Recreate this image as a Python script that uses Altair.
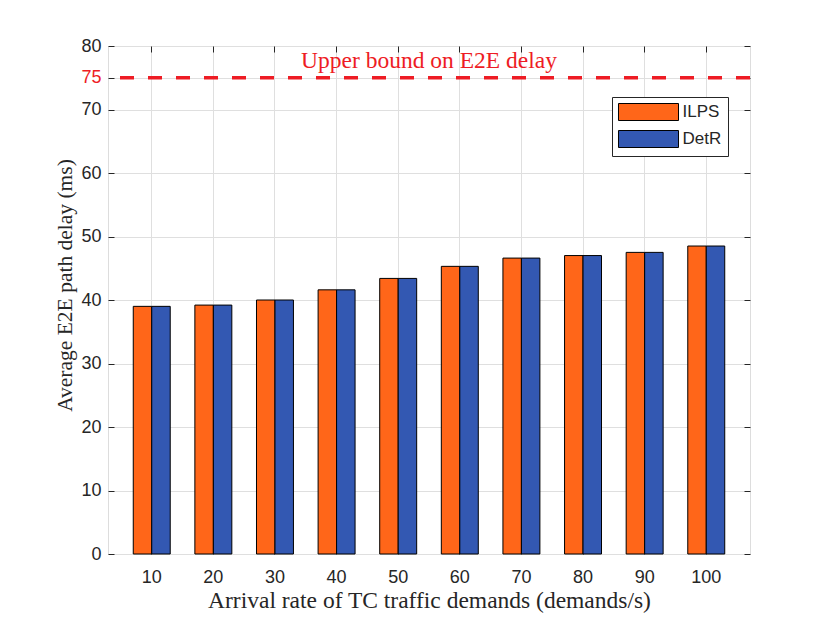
import altair as alt
import pandas as pd

categories = ["10", "20", "30", "40", "50", "60", "70", "80", "90", "100"]
series = ["ILPS", "DetR"]
ilps = [39.0, 39.2, 40.0, 41.6, 43.4, 45.3, 46.6, 47.0, 47.5, 48.5]
detr = [39.0, 39.2, 40.0, 41.6, 43.4, 45.3, 46.6, 47.0, 47.5, 48.5]
y_ticks = [0, 10, 20, 30, 40, 50, 60, 70, 75, 80]
bound = 75
bound_label = "Upper bound on E2E delay"
bound_label_y = 77.6

W, H = 642, 508
AX = "#262626"
GRID = "#dfdfdf"
ORANGE = "#FF6619"
BLUE = "#3358B2"
RED = "#EE1C24"
SANS = "Liberation Sans"
SERIF = "Liberation Serif"

rows = []
for c, a, b in zip(categories, ilps, detr):
    rows.append({"cat": c, "series": "ILPS", "value": a})
    rows.append({"cat": c, "series": "DetR", "value": b})
df = pd.DataFrame(rows)

xscale = alt.Scale(type="band", domain=categories, paddingInner=0.4, paddingOuter=0.41)
yscale = alt.Scale(domain=[0, 80], nice=False, zero=True)

tick_axis_common = dict(labels=False, domain=False, grid=False, ticks=True,
                        tickSize=6, tickColor=AX, tickWidth=1, title=None)

bars = alt.Chart(df).mark_bar(stroke="black", strokeWidth=1).encode(
    x=alt.X("cat:N", scale=xscale, sort=categories,
            axis=alt.Axis(orient="bottom", title="Arrival rate of TC traffic demands (demands/s)",
                          labelAngle=0, ticks=False, grid=True, gridColor=GRID, domain=False,
                          bandPosition=0.5, labelPadding=14,
                          labelFont=SANS, labelFontSize=18, labelColor=AX,
                          titleY=46, titleBaseline="middle",
                          titleFont=SERIF, titleFontSize=23.5, titleFontWeight="normal", titleColor=AX)),
    xOffset=alt.XOffset("series:N", sort=series, scale=alt.Scale(domain=series, paddingInner=0, paddingOuter=0)),
    y=alt.Y("value:Q", scale=yscale,
            axis=alt.Axis(orient="left", values=y_ticks, title="Average E2E path delay (ms)",
                          ticks=False, grid=True, gridColor=GRID, domain=False,
                          labelPadding=7,
                          labelFont=SANS, labelFontSize=18,
                          labelColor={"condition": {"test": "datum.value == 75", "value": RED}, "value": AX},
                          titleX=-43, titleY=239, titleBaseline="middle", titleAlign="center",
                          titleFont=SERIF, titleFontSize=21.5, titleFontWeight="normal", titleColor=AX)),
    color=alt.Color("series:N", sort=series, scale=alt.Scale(domain=series, range=[ORANGE, BLUE]),
                    legend=alt.Legend(title=None, orient="none", legendX=504, legendY=51,
                                      symbolType="M-3.53,-1L3.53,-1L3.53,1L-3.53,1Z", symbolSize=289,
                                      symbolOffset=21.5,
                                      symbolStrokeColor="black", symbolStrokeWidth=1, symbolOpacity=1,
                                      labelFont=SANS, labelFontSize=17, labelColor=AX,
                                      strokeColor=AX, fillColor="white", padding=6,
                                      rowPadding=5, labelOffset=25)),
)

# inward ticks: bottom edge (top-oriented axis shifted down)
ticks_bottom = alt.Chart(df).mark_bar(opacity=0).encode(
    x=alt.X("cat:N", scale=xscale, sort=categories,
            axis=alt.Axis(orient="top", offset=-H, bandPosition=0.5, **tick_axis_common)),
    y=alt.Y("value:Q", scale=yscale, axis=None),
)
# inward ticks: top edge
ticks_top = alt.Chart(df).mark_bar(opacity=0).encode(
    x=alt.X("cat:N", scale=xscale, sort=categories,
            axis=alt.Axis(orient="bottom", offset=-H, bandPosition=0.5, **tick_axis_common)),
    y=alt.Y("value:Q", scale=yscale, axis=None),
)

bound_df = pd.DataFrame({"bound": [bound]})
rule = alt.Chart(bound_df).mark_rule(color=RED, strokeWidth=3.5, strokeDash=[14, 14]).encode(
    y=alt.Y("bound:Q", scale=yscale,
            axis=alt.Axis(orient="right", offset=-W, values=y_ticks, **tick_axis_common)),
)

label_df = pd.DataFrame({"label": [bound_label], "ly": [bound_label_y]})
label = alt.Chart(label_df).mark_text(color=RED, font=SERIF, fontSize=23.5, align="center",
                                      baseline="middle").encode(
    x=alt.value(W / 2),
    y=alt.Y("ly:Q", scale=yscale,
            axis=alt.Axis(orient="left", offset=-W, values=y_ticks, **tick_axis_common)),
    text="label:N",
)

chart = alt.layer(bars, ticks_bottom, ticks_top, rule, label).resolve_axis(
    x="independent", y="independent"
).properties(
    width=W, height=H,
    autosize=alt.AutoSizeParams(type="none"),
    padding={"left": 100, "top": 38, "right": 60, "bottom": 62},
).configure_view(stroke=AX, strokeWidth=1).configure(background="white")

chart.save("out.html", embed_options={"renderer": "svg", "actions": False})
